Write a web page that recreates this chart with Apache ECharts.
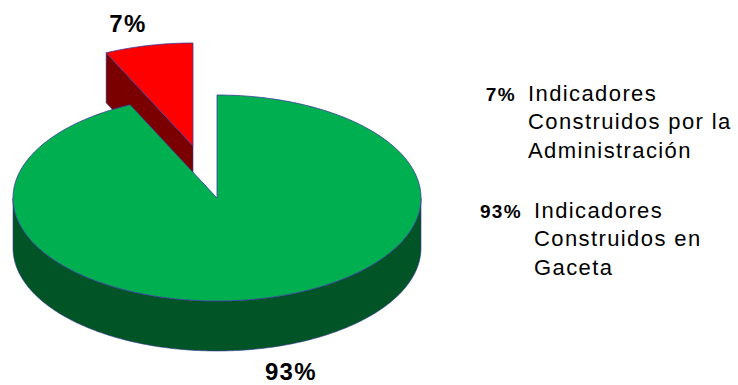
<!DOCTYPE html>
<html>
<head>
<meta charset="utf-8">
<style>html,body{margin:0;padding:0;background:#fff}#c{width:738px;height:385px;letter-spacing:1.4px}</style>
<script src="https://cdn.jsdelivr.net/npm/echarts@6/dist/echarts.min.js"></script>
</head>
<body>
<div id="c"></div>
<script>
// Share of indicators by origin
const categories = [
  ['Indicadores', 'Construidos por la', 'Administración'],
  ['Indicadores', 'Construidos en', 'Gaceta']
];
const values = [7, 93];

// Tilted pie geometry
const CX = 217, CY = 198, RX = 204, RY = 103, DEPTH = 50;
const EXPLODE = [[-24, -52], [0, 0]];
const TOPS = ['#ff0000', '#00b050'];
const SIDES = ['#7a0000', '#005426'];
const EDGE = '#3b3b9c';
const PCT_POS = [[128, 23], [291, 371]];
const LEGEND_POS = [
  { pctX: 501, x: 528, y: 93 },
  { pctX: 501, x: 534, y: 210 }
];
const LINE_H = 28.5;

const total = values.reduce((a, b) => a + b, 0);

function pt(theta, dx, dy) {
  return [CX + dx + RX * Math.sin(theta), CY + dy - RY * Math.cos(theta)];
}
function arc(a0, a1, dx, dy) {
  const n = Math.max(2, Math.ceil(Math.abs(a1 - a0) * 60));
  const out = [];
  for (let i = 0; i <= n; i++) out.push(pt(a0 + (a1 - a0) * i / n, dx, dy));
  return out;
}

function renderItem(params, api) {
  const i = params.dataIndex;
  // The first slice ends at twelve o'clock, the second starts there
  const before = values.slice(0, i).reduce((a, b) => a + b, 0) - values[0];
  const a0 = before / total * Math.PI * 2;
  const a1 = (before + api.value(0)) / total * Math.PI * 2;
  const [dx, dy] = EXPLODE[i];
  const apex = [CX + dx, CY + dy];
  const children = [];

  // Rim: the part of the outer wall that faces the viewer
  const lo = Math.max(a0, Math.PI / 2), hi = Math.min(a1, Math.PI * 1.5);
  if (hi > lo) {
    const top = arc(lo, hi, dx, dy);
    const bottom = top.map(p => [p[0], p[1] + DEPTH]).reverse();
    children.push({ type: 'polygon', shape: { points: top.concat(bottom) },
      style: { fill: SIDES[i], stroke: EDGE, lineWidth: 0.6 } });
  }
  // Cut wall of the detached slice, visible on its lower-left edge
  if (i === 0) {
    const p = pt(a0, dx, dy);
    children.push({ type: 'polygon',
      shape: { points: [p, apex, [apex[0], apex[1] + DEPTH], [p[0], p[1] + DEPTH]] },
      style: { fill: SIDES[i], stroke: EDGE, lineWidth: 0.6 } });
  }
  // Top face
  children.push({ type: 'polygon',
    shape: { points: [apex].concat(arc(a0, a1, dx, dy)) },
    style: { fill: TOPS[i], stroke: EDGE, lineWidth: 0.8 } });

  // Percentage next to the pie
  children.push({ type: 'text', style: {
    x: PCT_POS[i][0], y: PCT_POS[i][1], text: api.value(0) + '%',
    fill: '#000', font: 'bold 24px "Liberation Sans", Arial, sans-serif',
    align: 'center', verticalAlign: 'middle' } });

  // Legend entry
  const L = LEGEND_POS[i];
  children.push({ type: 'text', style: {
    x: L.pctX, y: L.y + 1, text: api.value(0) + '%',
    fill: '#000', font: 'bold 19px "Liberation Sans", Arial, sans-serif',
    align: 'center', verticalAlign: 'middle' } });
  categories[i].forEach((line, k) => {
    children.push({ type: 'text', style: {
      x: L.x, y: L.y + k * LINE_H, text: line,
      fill: '#000', font: '22px "Liberation Sans", Arial, sans-serif',
      align: 'left', verticalAlign: 'middle' } });
  });
  return { type: 'group', children };
}

const chart = echarts.init(document.getElementById('c'), null, { renderer: 'svg' });
chart.setOption({
  animation: false,
  backgroundColor: '#fff',
  series: [{
    type: 'custom',
    coordinateSystem: 'none',
    renderItem,
    data: values.map(v => [v]),
    silent: true,
    z: 2
  }]
});
</script>
</body>
</html>
